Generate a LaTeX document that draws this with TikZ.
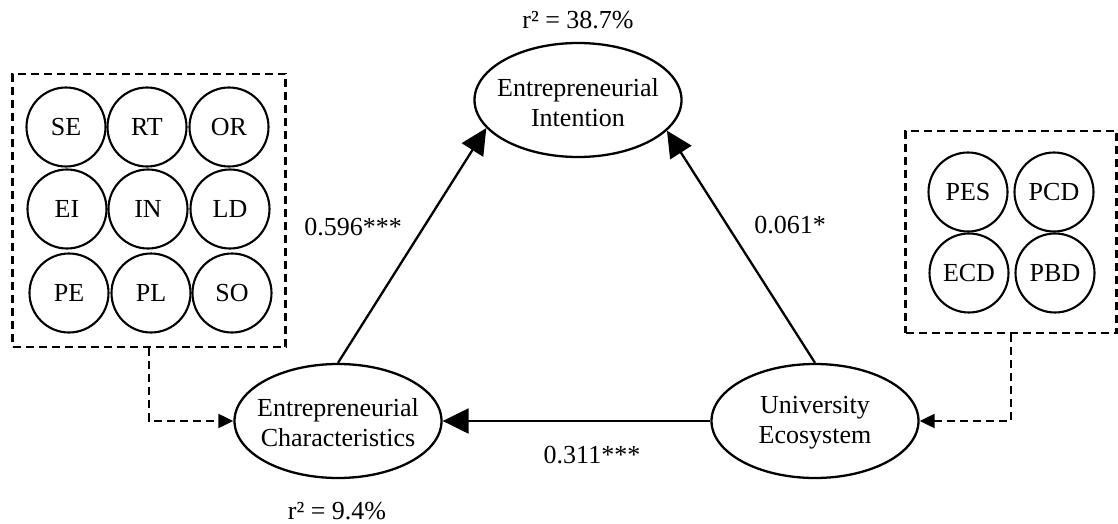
\documentclass[tikz,border=0pt]{standalone}
\usepackage{fontspec}
\setmainfont{Liberation Serif}
\usetikzlibrary{arrows.meta,shapes.geometric}
\begin{document}
\begin{tikzpicture}[x=1pt,y=-1pt,
  every node/.style={font=\fontsize{26}{30}\selectfont},
  every label/.style={align=center,inner sep=0pt,font=\fontsize{26}{30}\selectfont},
  latent/.style={draw,line width=2.3pt,ellipse,minimum width=207pt,minimum height=114pt,inner sep=0pt},
  ind/.style={draw,line width=2.1pt,circle,minimum size=79pt,inner sep=0pt},
  grp/.style={draw,line width=2.1pt,dash pattern=on 8pt off 5pt,rectangle,inner sep=0pt},
  path/.style={line width=2.3pt,-{Triangle[length=26pt,width=25pt]}},
  dpath/.style={line width=2.1pt,dash pattern=on 8pt off 5pt,-{Triangle[length=15pt,width=14pt]}},
  lbl/.style={inner sep=0pt}]
\useasboundingbox (0,0) rectangle (1118,524);
% latent constructs
\node[latent,label={[yshift=-3pt]center:Entrepreneurial\\Intention}] (EI) at (578,100) {};
\node[latent,label={[yshift=-2pt]center:Entrepreneurial\\Characteristics}] (EC) at (338,421) {};
\node[latent,label={[yshift=-2pt]center:University\\Ecosystem}] (UE) at (815,421) {};
% left indicator group
\node[grp,minimum width=273pt,minimum height=273pt] (LB) at (149,210.5) {};
\node[ind] (SE) at (66,127) {SE};
\node[ind] (RT) at (147,127) {RT};
\node[ind] (OR) at (229,127) {OR};
\node[ind] (EIi) at (67,209) {EI};
\node[ind] (IN) at (148,209) {IN};
\node[ind] (LD) at (230,209) {LD};
\node[ind] (PE) at (69,293) {PE};
\node[ind] (PL) at (151,293) {PL};
\node[ind] (SO) at (232,293) {SO};
% right indicator group
\node[grp,minimum width=211pt,minimum height=202pt] (RB) at (1011,232) {};
\node[ind] (PES) at (968,192) {PES};
\node[ind] (PCD) at (1054,192) {PCD};
\node[ind] (ECD) at (969,273) {ECD};
\node[ind] (PBD) at (1055,273) {PBD};
% paths
\draw[path] (EC.north) -- (EI.197);
\draw[path] (UE.north) -- (EI.341);
\draw[path] (UE.west) -- (EC.east);
\draw[dpath] (LB.south) |- (EC.west);
\draw[dpath] (RB.south) |- (UE.east);
% labels
\node[lbl] (r1) at (578,20) {r² = 38.7\%};
\node[lbl] (r2) at (337,511) {r² = 9.4\%};
\node[lbl] (c1) at (353,227) {0.596***};
\node[lbl] (c2) at (790,225) {0.061*};
\node[lbl] (c3) at (592,455) {0.311***};
\end{tikzpicture}
\end{document}
